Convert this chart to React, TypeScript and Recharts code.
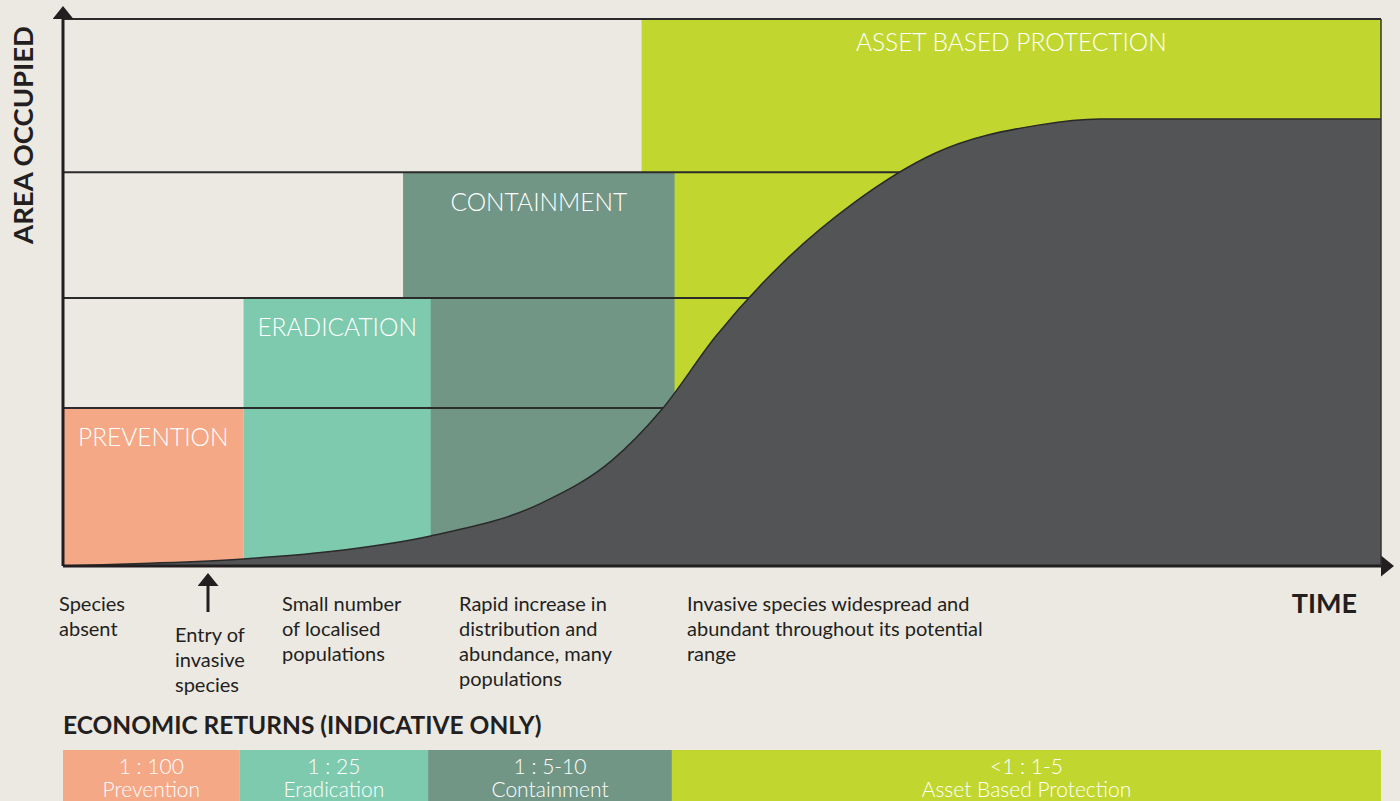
import React from "react";
import {
  ComposedChart,
  Area,
  XAxis,
  YAxis,
  ReferenceArea,
  ReferenceLine,
  BarChart,
  Bar,
} from "recharts";

const BG = "#ece9e3";
const INK = "#231f20";
const FONT = "Lato, 'Noto Sans', sans-serif";

// invasion curve (time 0-100, area occupied 0-100)
const timeValues = [0, 6.6, 13.7, 20.1, 27.9, 36.3, 41.7, 45.4, 49.5, 54.6, 59.9, 66.2, 74.0, 78.7, 100];
const areaValues = [0, 0.5, 1.3, 2.6, 5.5, 11.5, 19.4, 28.5, 41.9, 55.4, 66.2, 75.5, 80.6, 81.7, 81.7];

// management stages
const stageNames = ["PREVENTION", "ERADICATION", "CONTAINMENT", "ASSET BASED PROTECTION"];
const stageStart = [0, 13.7, 25.8, 43.9];
const stageEnd = [13.7, 27.9, 46.4, 100];
const stageTop = [28.9, 49.0, 72.0, 100];
const stageColors = ["#f5a886", "#7ecaae", "#719686", "#c1d72f"];

// economic returns bar
const returnKeys = ["prevention", "eradication", "containment", "asset"];
const returnRatios = ["1 : 100", "1 : 25", "1 : 5-10", "<1 : 1-5"];
const returnNames = ["Prevention", "Eradication", "Containment", "Asset Based Protection"];
const returnShares = [13.4, 14.3, 18.5, 53.8];

const phaseNotes = [
  ["Species", "absent"],
  ["Entry of", "invasive", "species"],
  ["Small number", "of localised", "populations"],
  ["Rapid increase in", "distribution and", "abundance, many", "populations"],
  ["Invasive species widespread and", "abundant throughout its potential", "range"],
];

const curveData = timeValues.map((t, i) => ({ time: t, area: areaValues[i] }));
const returnRow: Record<string, any> = { name: "returns" };
returnKeys.forEach((k, i) => (returnRow[k] = returnShares[i]));

const notePos = [
  { x: 59, y: 603 },
  { x: 175, y: 634 },
  { x: 282, y: 603 },
  { x: 459, y: 603 },
  { x: 687, y: 603 },
];

const returnLabel = (i: number) => (props: any) => {
  const { x, y, width } = props;
  const cx = Number(x) + Number(width) / 2;
  return (
    <g>
      <text x={cx} y={Number(y) + 15} textAnchor="middle" dominantBaseline="central" fill="#fff" fontSize={21} fontFamily={FONT} fontWeight={300}>
        {returnRatios[i]}
      </text>
      <text x={cx} y={Number(y) + 38} textAnchor="middle" dominantBaseline="central" fill="#fff" fontSize={21} fontFamily={FONT} fontWeight={300}>
        {returnNames[i]}
      </text>
    </g>
  );
};

const App = () => {
  const order = [3, 2, 1, 0];
  return (
    <div style={{ position: "absolute", left: 0, top: 0, width: 1400, height: 801, background: BG, overflow: "hidden", fontFamily: FONT }}>
      <svg width={0} height={0} style={{ position: "absolute" }}>
        <defs>
          <marker id="arrowHead" viewBox="0 0 13 21" refX="0" refY="10.5" markerWidth="13" markerHeight="21" markerUnits="userSpaceOnUse" orient="auto-start-reverse">
            <path d="M0,0 L13,10.5 L0,21 z" fill={INK} />
          </marker>
        </defs>
      </svg>

      <div style={{ position: "absolute", left: 0, top: 0 }}>
        <ComposedChart width={1400} height={580} data={curveData} margin={{ top: 19, right: 18, bottom: 13, left: 62 }}>
          <XAxis
            type="number"
            dataKey="time"
            domain={[0, 100]}
            height={1}
            tick={false}
            tickLine={false}
            axisLine={{ stroke: INK, strokeWidth: 3, markerEnd: "url(#arrowHead)" }}
          />
          <YAxis
            type="number"
            domain={[0, 100]}
            width={1}
            tick={false}
            tickLine={false}
            axisLine={{ stroke: INK, strokeWidth: 3, markerStart: "url(#arrowHead)" }}
          />
          <YAxis
            yAxisId="edge"
            orientation="right"
            type="number"
            domain={[0, 100]}
            width={1}
            tick={false}
            tickLine={false}
            axisLine={{ stroke: "#333", strokeWidth: 1.5 }}
          />
          {order.map((i) => (
            <ReferenceArea
              key={stageNames[i]}
              x1={stageStart[i]}
              x2={stageEnd[i]}
              y1={0}
              y2={stageTop[i]}
              fill={stageColors[i]}
              fillOpacity={1}
              stroke="none"
              zIndex={10}
              label={{
                value: stageNames[i],
                position: "insideTop",
                offset: i === 3 ? 15 : 21,
                fill: "#fff",
                fontSize: 24.5,
                fontWeight: 300,
                fontFamily: FONT,
              }}
            />
          ))}
          {stageTop.map((t) => (
            <ReferenceLine key={t} y={t} stroke="#2b2b2b" strokeWidth={2} zIndex={50} />
          ))}
          <Area
            type="monotone"
            dataKey="area"
            stroke="#2a2a2a"
            strokeWidth={1.5}
            fill="#535456"
            fillOpacity={1}
            isAnimationActive={false}
            zIndex={100}
          />
        </ComposedChart>
      </div>

      <div style={{ position: "absolute", left: 0, top: 750 }}>
        <BarChart width={1400} height={60} layout="vertical" data={[returnRow]} margin={{ top: 0, right: 19, bottom: 0, left: 63 }} barCategoryGap={0}>
          <XAxis type="number" domain={[0, 100]} hide />
          <YAxis type="category" dataKey="name" hide />
          {returnKeys.map((k, i) => (
            <Bar key={k} dataKey={k} stackId="r" fill={stageColors[i]} isAnimationActive={false} label={returnLabel(i)} />
          ))}
        </BarChart>
      </div>

      <svg width={1400} height={801} style={{ position: "absolute", left: 0, top: 0, pointerEvents: "none" }}>
        <text
          transform="translate(22,135) rotate(-90)"
          textAnchor="middle"
          dominantBaseline="central"
          fontSize={27.5}
          fontWeight={700}
          fill={INK}
          fontFamily={FONT}
        >
          AREA OCCUPIED
        </text>
        <text x={1357} y={602} textAnchor="end" dominantBaseline="central" fontSize={27} fontWeight={700} fill={INK} fontFamily={FONT}>
          TIME
        </text>
        <line x1={208} y1={612} x2={208} y2={586} stroke={INK} strokeWidth={3} markerEnd="url(#arrowHead)" />
        {phaseNotes.map((lines, i) => (
          <text key={i} x={notePos[i].x} fontSize={20} fill={INK} fontFamily={FONT}>
            {lines.map((ln, j) => (
              <tspan key={j} x={notePos[i].x} y={notePos[i].y + j * 25} dominantBaseline="central">
                {ln}
              </tspan>
            ))}
          </text>
        ))}
        <text x={63} y={724} dominantBaseline="central" fontSize={24.5} fontWeight={700} fill={INK} fontFamily={FONT}>
          ECONOMIC RETURNS (INDICATIVE ONLY)
        </text>
      </svg>
    </div>
  );
};

export default App;
